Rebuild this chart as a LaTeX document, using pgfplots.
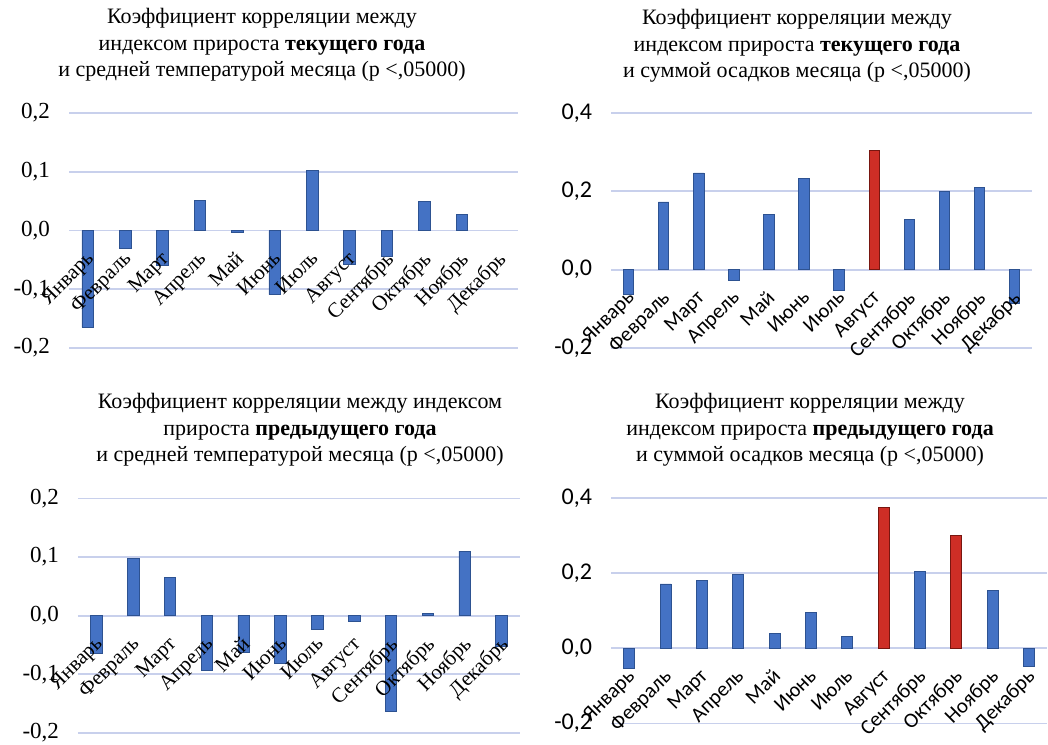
\documentclass[border=0pt]{standalone}
\usepackage{fontspec}
\setmainfont{Liberation Serif}
\newfontfamily\calfont{Carlito}
\usepackage{pgfplots}
\pgfplotsset{compat=1.18}
\usepackage{pgfplotstable}

\definecolor{barblue}{RGB}{68,114,196}
\definecolor{bluedge}{RGB}{45,82,145}
\definecolor{barred}{RGB}{206,46,38}
\definecolor{rededge}{RGB}{120,22,16}
\definecolor{gridc}{RGB}{200,208,236}

% v = ordinary bars, s = significant (red) bars
\pgfplotstableread{
x v
0 -0.165
1 -0.030
2 -0.060
3 0.051
4 -0.003
5 -0.109
6 0.102
7 -0.057
8 -0.044
9 0.049
10 0.027
}\tempcur

\pgfplotstableread{
x v s
0 -0.064 nan
1 0.173 nan
2 0.247 nan
3 -0.027 nan
4 0.140 nan
5 0.234 nan
6 -0.054 nan
7 nan 0.305
8 0.129 nan
9 0.200 nan
10 0.211 nan
11 -0.085 nan
}\preccur

\pgfplotstableread{
x v
0 -0.064
1 0.097
2 0.065
3 -0.093
4 -0.062
5 -0.082
6 -0.023
7 -0.010
8 -0.163
9 0.003
10 0.110
11 -0.052
}\tempprev

\pgfplotstableread{
x v s
0 -0.055 nan
1 0.171 nan
2 0.180 nan
3 0.196 nan
4 0.039 nan
5 0.094 nan
6 0.032 nan
7 nan 0.375
8 0.205 nan
9 nan 0.299
10 0.154 nan
11 -0.048 nan
}\precprev

\pgfplotsset{
  months/.style={
    scale only axis,
    anchor=south west,
    xmin=-0.5, xmax=11.5,
    xtick={0,...,11},
    axis x line*=middle,
    axis y line*=left,
    axis line style={draw=none},
    major tick length=0pt,
    clip=false,
  },
  % first pass: grid, bars and y numbers
  barpass/.style={
    months,
    xticklabels={},
    ymajorgrids,
    grid style={gridc, line width=0.9pt},
    ybar, bar shift=0pt,
    yticklabel style={xshift=-6pt,
      /pgf/number format/fixed,
      /pgf/number format/fixed zerofill,
      /pgf/number format/precision=1,
      /pgf/number format/use comma,
      /pgf/number format/assume math mode=true},
  },
  % second pass: month names over the bars
  labelpass/.style={
    months,
    yticklabels={},
    xticklabels={Январь,Февраль,Март,Апрель,Май,Июнь,Июль,Август,Сентябрь,Октябрь,Ноябрь,Декабрь},
    xticklabel style={yshift=-9.5pt, xshift=-1.5pt, rotate=45, anchor=north east, inner sep=0pt},
  },
  serifpanel/.style={
    ymin=-0.2, ymax=0.2, ytick={-0.2,-0.1,0,0.1,0.2},
    yticklabel style={font=\fontsize{11.5}{12}\selectfont},
    xticklabel style={font=\fontsize{10.5}{11}\selectfont},
  },
  sanspanel/.style={
    ymin=-0.2, ymax=0.4, ytick={-0.2,0,0.2,0.4},
    yticklabel style={font=\calfont\fontsize{12}{12}\selectfont},
    xticklabel style={font=\calfont\fontsize{10.5}{11}\selectfont},
  },
  pA/.style={serifpanel, at={(34.5pt,-174pt)}, width=224.5pt, height=117.5pt, bar width=5.8pt},
  pB/.style={sanspanel, at={(305.5pt,-174pt)}, width=210.5pt, height=117.5pt, bar width=5.2pt},
  pC/.style={serifpanel, at={(39pt,-366.4pt)}, width=221pt, height=117.2pt, bar width=5.8pt},
  pD/.style={sanspanel, at={(305.5pt,-361.7pt)}, width=218pt, height=112.8pt, bar width=5.5pt},
}

\begin{document}
\begin{tikzpicture}
\path[use as bounding box] (0,0) rectangle (524pt,-372pt);

\begin{axis}[barpass, pA]
  \addplot[fill=barblue, draw=bluedge] table[x=x, y=v] {\tempcur};
\end{axis}
\begin{axis}[labelpass, pA]
\end{axis}

\begin{axis}[barpass, pB]
  \addplot[fill=barblue, draw=bluedge] table[x=x, y=v] {\preccur};
  \addplot[fill=barred, draw=rededge] table[x=x, y=s] {\preccur};
\end{axis}
\begin{axis}[labelpass, pB]
\end{axis}

\begin{axis}[barpass, pC]
  \addplot[fill=barblue, draw=bluedge] table[x=x, y=v] {\tempprev};
\end{axis}
\begin{axis}[labelpass, pC]
\end{axis}

\begin{axis}[barpass, pD]
  \addplot[fill=barblue, draw=bluedge] table[x=x, y=v] {\precprev};
  \addplot[fill=barred, draw=rededge] table[x=x, y=s] {\precprev};
\end{axis}
\begin{axis}[labelpass, pD]
\end{axis}

\begin{scope}[every node/.style={align=center, font=\fontsize{11}{13.3}\selectfont}]
\node at (131pt,-22.5pt) {Коэффициент корреляции между\\индексом прироста \textbf{текущего года}\\и средней температурой месяца (p <,05000)};
\node at (398.5pt,-23pt) {Коэффициент корреляции между\\индексом прироста \textbf{текущего года}\\и суммой осадков месяца (p <,05000)};
\node at (150pt,-215pt) {Коэффициент корреляции между индексом\\прироста \textbf{предыдущего года}\\и средней температурой месяца (p <,05000)};
\node at (405pt,-215pt) {Коэффициент корреляции между\\индексом прироста \textbf{предыдущего года}\\и суммой осадков месяца (p <,05000)};
\end{scope}
\end{tikzpicture}
\end{document}
